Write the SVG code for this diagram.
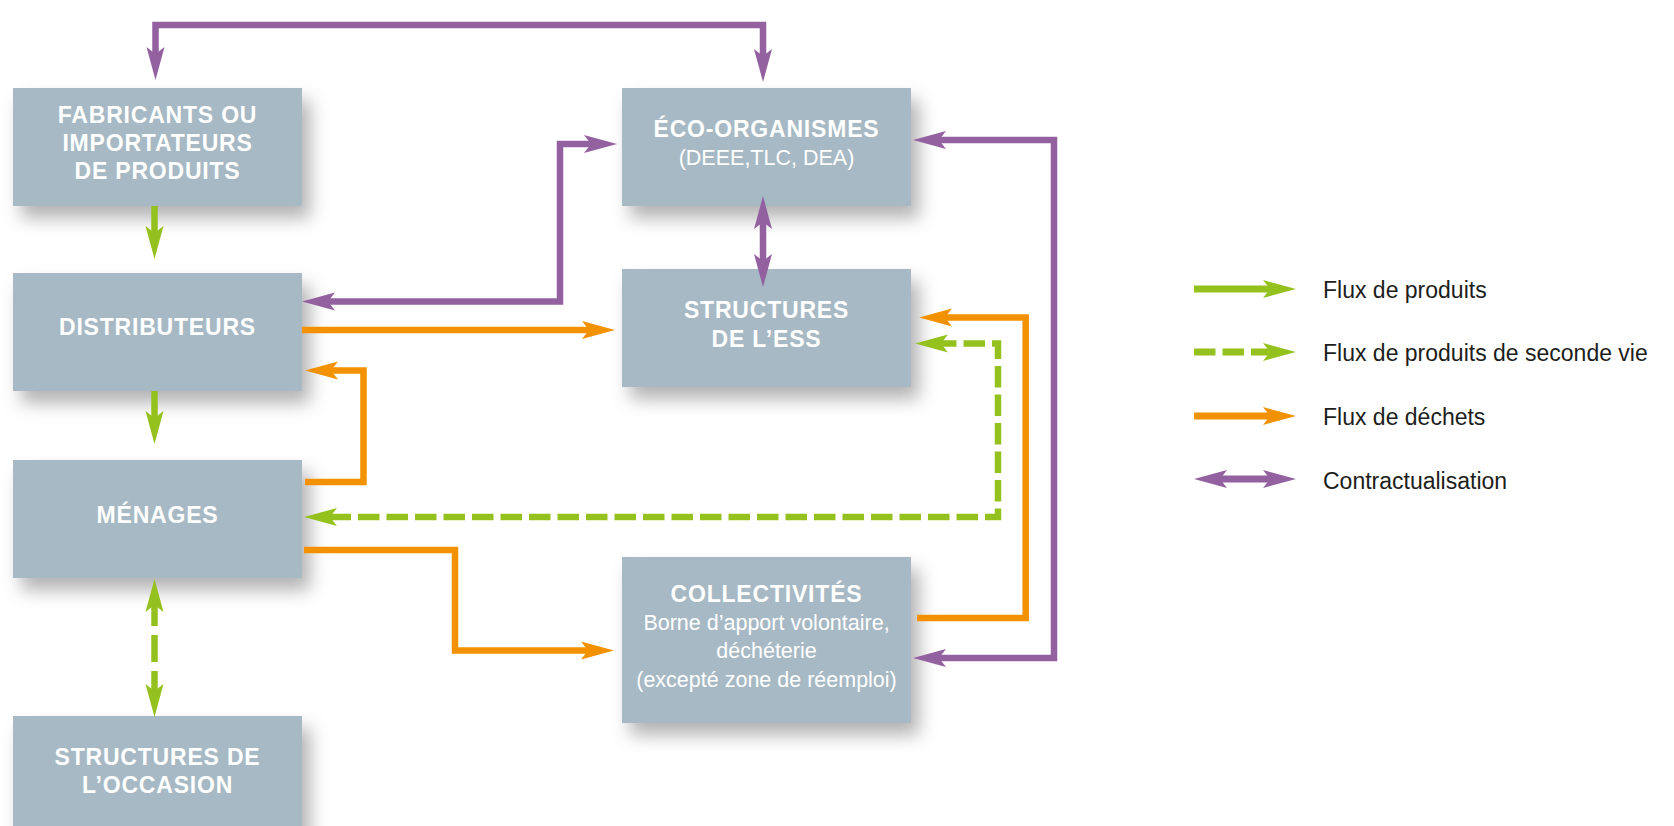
<svg xmlns="http://www.w3.org/2000/svg" width="1674" height="826" viewBox="0 0 1674 826">
  <style>
    .box { fill: #a7b9c4; filter: url(#shadow); }
    .t { font-family: "Liberation Sans", Arial, sans-serif; font-size: 23px; font-weight: bold; fill: #ffffff; text-anchor: middle; letter-spacing: 0.8px; }
    .r { font-family: "Liberation Sans", Arial, sans-serif; font-size: 21.5px; fill: #ffffff; text-anchor: middle; }
    .lg { font-family: "Liberation Sans", Arial, sans-serif; font-size: 23px; fill: #1d1d1b; }
    .c { fill: none; stroke-width: 6.5; stroke-linejoin: miter; stroke-linecap: butt; }
    .pu { stroke: #9360a0; }
    .gr { stroke: #95c11f; }
    .or { stroke: #f39200; }
    .d1 { stroke-dasharray: 21.5 7; }
    .d2 { stroke-dasharray: 27 9; }
  </style>
  <defs>
    <filter id="shadow" x="-20%" y="-20%" width="150%" height="160%">
      <feDropShadow dx="8" dy="12" stdDeviation="9" flood-color="#000000" flood-opacity="0.3"/>
    </filter>
    <marker id="mp" markerUnits="userSpaceOnUse" markerWidth="40" markerHeight="24" viewBox="0 -12 40 24" refX="13" refY="0" orient="auto-start-reverse">
      <path d="M0,-9 L33,0 L0,9 L7,0 Z" fill="#9360a0"/>
    </marker>
    <marker id="mg" markerUnits="userSpaceOnUse" markerWidth="40" markerHeight="24" viewBox="0 -12 40 24" refX="13" refY="0" orient="auto-start-reverse">
      <path d="M0,-9 L33,0 L0,9 L7,0 Z" fill="#95c11f"/>
    </marker>
    <marker id="mo" markerUnits="userSpaceOnUse" markerWidth="40" markerHeight="24" viewBox="0 -12 40 24" refX="13" refY="0" orient="auto-start-reverse">
      <path d="M0,-9 L33,0 L0,9 L7,0 Z" fill="#f39200"/>
    </marker>
  </defs>

  <rect x="0" y="0" width="1674" height="826" fill="#ffffff"/>

  <g id="fabricants">
    <rect class="box" x="13" y="88" width="289" height="118"/>
    <text class="t" x="157.5" y="123">FABRICANTS OU</text>
    <text class="t" x="157.5" y="151">IMPORTATEURS</text>
    <text class="t" x="157.5" y="179">DE PRODUITS</text>
  </g>
  <g id="distributeurs">
    <rect class="box" x="13" y="273" width="289" height="118"/>
    <text class="t" x="157.5" y="335">DISTRIBUTEURS</text>
  </g>
  <g id="menages">
    <rect class="box" x="13" y="460" width="289" height="118"/>
    <text class="t" x="157.5" y="523">MÉNAGES</text>
  </g>
  <g id="occasion">
    <rect class="box" x="13" y="716" width="289" height="130"/>
    <text class="t" x="157.5" y="765">STRUCTURES DE</text>
    <text class="t" x="157.5" y="793">L’OCCASION</text>
  </g>
  <g id="eco-organismes">
    <rect class="box" x="622" y="88" width="289" height="118"/>
    <text class="t" x="766.5" y="137">ÉCO-ORGANISMES</text>
    <text class="r" x="766.5" y="165">(DEEE,TLC, DEA)</text>
  </g>
  <g id="ess">
    <rect class="box" x="622" y="269" width="289" height="118"/>
    <text class="t" x="766.5" y="318">STRUCTURES</text>
    <text class="t" x="766.5" y="347">DE L’ESS</text>
  </g>
  <g id="collectivites">
    <rect class="box" x="622" y="557" width="289" height="166"/>
    <text class="t" x="766.5" y="602">COLLECTIVITÉS</text>
    <text class="r" x="766.5" y="630">Borne d’apport volontaire,</text>
    <text class="r" x="766.5" y="658">déchéterie</text>
    <text class="r" x="766.5" y="687">(excepté zone de réemploi)</text>
  </g>

  <g id="connectors">
    <path class="c pu" d="M155.5,60 V25 H763 V62" marker-start="url(#mp)" marker-end="url(#mp)"/>
    <path class="c pu" d="M322,301.5 H560 V144 H597" marker-start="url(#mp)" marker-end="url(#mp)"/>
    <path class="c pu" d="M763,216 V267" marker-start="url(#mp)" marker-end="url(#mp)"/>
    <path class="c pu" d="M933,140 H1054 V658 H933" marker-start="url(#mp)" marker-end="url(#mp)"/>
    <path class="c or" d="M302,330 H595" marker-end="url(#mo)"/>
    <path class="c or" d="M305,482 H363.5 V370.5 H325" marker-end="url(#mo)"/>
    <path class="c or" d="M304,550 H455 V650.5 H594" marker-end="url(#mo)"/>
    <path class="c or" d="M917,618 H1025.7 V317.5 H939" marker-end="url(#mo)"/>
    <path class="c gr" d="M154.5,206 V239" marker-end="url(#mg)"/>
    <path class="c gr" d="M154.5,391 V424" marker-end="url(#mg)"/>
    <path class="c gr d2" d="M154.5,599 V697" marker-start="url(#mg)" marker-end="url(#mg)"/>
    <path class="c gr d1" d="M935,343.5 H998 V517 H324" marker-start="url(#mg)" marker-end="url(#mg)"/>
  </g>

  <g id="legend">
    <path class="c gr" style="stroke-width:7" d="M1194,289 H1276" marker-end="url(#mg)"/>
    <path class="c gr d1" style="stroke-width:7" d="M1194,352 H1276" marker-end="url(#mg)"/>
    <path class="c or" style="stroke-width:7" d="M1194,416 H1276" marker-end="url(#mo)"/>
    <path class="c pu" style="stroke-width:7" d="M1214,479 H1276" marker-start="url(#mp)" marker-end="url(#mp)"/>
    <text class="lg" x="1323" y="298">Flux de produits</text>
    <text class="lg" x="1323" y="361">Flux de produits de seconde vie</text>
    <text class="lg" x="1323" y="425">Flux de déchets</text>
    <text class="lg" x="1323" y="489">Contractualisation</text>
  </g>
</svg>
